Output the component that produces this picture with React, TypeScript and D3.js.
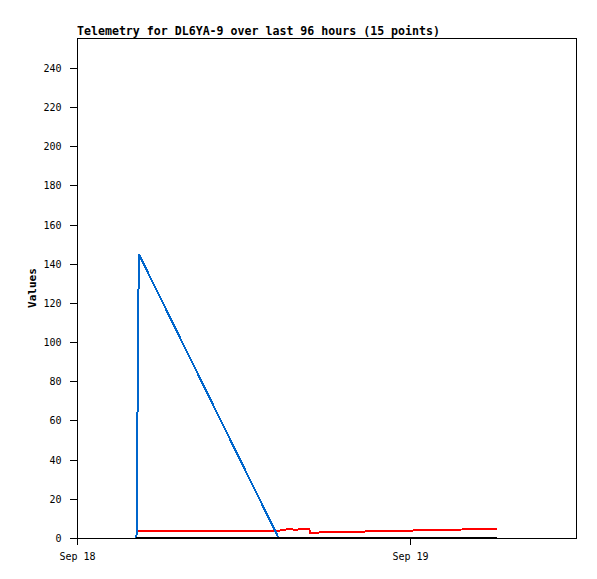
import React from "react";
import * as d3 from "d3";

const title = "Telemetry for DL6YA-9 over last 96 hours (15 points)";
const yLabel = "Values";
const times = [
  "2023-09-18T04:17:00Z",
  "2023-09-18T04:22:00Z",
  "2023-09-18T04:27:00Z",
  "2023-09-18T14:31:00Z",
  "2023-09-18T14:55:00Z",
  "2023-09-18T15:21:00Z",
  "2023-09-18T15:37:00Z",
  "2023-09-18T15:46:00Z",
  "2023-09-18T16:20:00Z",
  "2023-09-18T16:43:00Z",
  "2023-09-18T16:47:00Z",
  "2023-09-18T20:00:00Z",
  "2023-09-19T00:42:00Z",
  "2023-09-19T06:09:00Z",
  "2023-09-19T06:13:00Z",
];
const redValues = [3.7, 3.7, 3.7, 3.7, 4.2, 4.7, 4.2, 4.2, 4.7, 4.7, 2.7, 3.2, 3.9, 4.7, 4.0];
const blueValues = [0, 72.5, 145, 0, 0, 0, 0, 0, 0, 0, 0, 0, 0, 0, 0];
const blackValues = [0, 0, 0, 0, 0, 0, 0, 0, 0, 0, 0, 0, 0, 0, 0];
const yTicks = [0, 20, 40, 60, 80, 100, 120, 140, 160, 180, 200, 220, 240];
const xDomain = ["2023-09-18T00:00:00Z", "2023-09-19T12:00:00Z"];
const xTicks = ["2023-09-18T00:00:00Z", "2023-09-19T00:00:00Z"];

const W = 597, H = 579;
const L = 77, R = 577, T = 38, B = 538;
const mono = "'DejaVu Sans Mono', monospace";

export default function App() {
  const x = d3.scaleUtc().domain(xDomain.map((d) => new Date(d))).range([L, R]);
  const y = d3.scaleLinear().domain([0, 255.3]).range([B, T]);
  const fmt = d3.utcFormat("%b %d");
  const pts = times.map((t) => new Date(t));
  const mk = (vals: number[]) =>
    d3.line<number>().x((_, i) => x(pts[i])).y((v) => y(v))(vals) || "";

  return (
    <svg
      width={W}
      height={H}
      style={{ position: "absolute", left: 0, top: 0, background: "#fff" }}
    >
      <rect x={0} y={0} width={W} height={H} fill="#fff" />
      <text x={L} y={34.5} fontFamily={mono} fontWeight="bold" fontSize={11.6} fill="#000">
        {title}
      </text>
      <rect x={L + 0.5} y={T + 0.5} width={R - L - 1} height={B - T} fill="none" stroke="#000" strokeWidth={1} shapeRendering="crispEdges" />
      {yTicks.map((t) => (
        <g key={t}>
          <line x1={L - 7} x2={L} y1={Math.round(y(t)) + 0.5} y2={Math.round(y(t)) + 0.5} stroke="#000" shapeRendering="crispEdges" />
          <text x={61.5} y={y(t) + 4} textAnchor="end" fontFamily={mono} fontSize={10} fill="#000">
            {t}
          </text>
        </g>
      ))}
      {xTicks.map((t) => {
        const xx = Math.round(x(new Date(t))) + 0.5;
        return (
          <g key={t}>
            <line x1={xx} x2={xx} y1={B} y2={B + 7} stroke="#000" shapeRendering="crispEdges" />
            <text x={xx} y={560} textAnchor="middle" fontFamily={mono} fontSize={10} fill="#000">
              {fmt(new Date(t))}
            </text>
          </g>
        );
      })}
      <text
        transform={`translate(35.5, ${(T + B) / 2}) rotate(-90)`}
        textAnchor="middle"
        fontFamily={mono}
        fontWeight="bold"
        fontSize={11}
        fill="#000"
      >
        {yLabel}
      </text>
      <path d={mk(redValues)} fill="none" stroke="#ff0000" strokeWidth={2} shapeRendering="crispEdges" />
      <path d={mk(blueValues)} fill="none" stroke="#0066cc" strokeWidth={2} shapeRendering="crispEdges" />
      <path d={mk(blackValues)} fill="none" stroke="#000" strokeWidth={2} shapeRendering="crispEdges" />
    </svg>
  );
}
